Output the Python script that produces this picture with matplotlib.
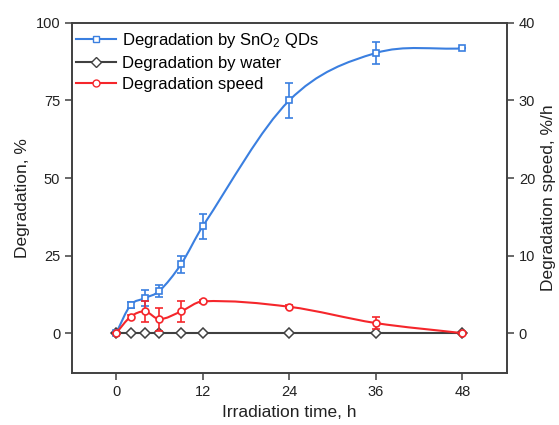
import numpy as np
import matplotlib
matplotlib.use("Agg")
from matplotlib import pyplot as plt
from matplotlib.path import Path
from matplotlib.patches import PathPatch
from matplotlib.lines import Line2D

plt.rcParams['font.family'] = ['Liberation Sans', 'DejaVu Sans']
plt.rcParams['mathtext.default'] = 'regular'

# data
cas = [0, 2, 4, 6, 9, 12, 24, 36, 48]
sno2 = [0, 9.0, 11.3, 13.6, 22.2, 34.4, 75.0, 90.3, 91.8]
sno2_err = [0, 1.0, 2.5, 2.0, 2.7, 4.0, 5.8, 3.6, 0]
voda = [0, 0, 0, 0, 0, 0, 0, 0, 0]
rychlost = [0, 2.1, 2.8, 1.8, 2.8, 4.1, 3.4, 1.3, 0]
rychlost_err = [0, 0.3, 1.3, 1.5, 1.4, 0.2, 0.2, 0.8, 0]

MODRA = '#3a7fe0'
CERVENA = '#f5262b'
SEDA = '#404040'


def hladka_cesta(x, y):
    # cubic Bezier segments through the data points (Origin-style spline line)
    x = np.asarray(x, float)
    y = np.asarray(y, float)
    n = len(x)
    m = np.zeros(n)
    for i in range(n):
        if i == 0:
            m[i] = (y[1] - y[0]) / (x[1] - x[0])
        elif i == n - 1:
            m[i] = (y[-1] - y[-2]) / (x[-1] - x[-2])
        else:
            m[i] = (y[i + 1] - y[i - 1]) / (x[i + 1] - x[i - 1])
    verts = [(x[0], y[0])]
    codes = [Path.MOVETO]
    for i in range(n - 1):
        dx = x[i + 1] - x[i]
        verts += [(x[i] + dx / 3, y[i] + m[i] * dx / 3),
                  (x[i + 1] - dx / 3, y[i + 1] - m[i + 1] * dx / 3),
                  (x[i + 1], y[i + 1])]
        codes += [Path.CURVE4] * 3
    return Path(verts, codes)


fig = plt.figure(figsize=(5.59, 4.25), dpi=100)
ax = fig.add_axes([0.129, 0.122, 0.778, 0.824])
ax2 = ax.twinx()

ax.add_patch(PathPatch(hladka_cesta(cas, sno2), fill=False, edgecolor=MODRA, lw=1.5, zorder=3))
ax.errorbar(cas, sno2, yerr=sno2_err, fmt='s', color=MODRA, mfc='white', mec=MODRA,
            ms=5, mew=1.2, capsize=3, elinewidth=1.2, capthick=1.2, zorder=4)
ax.plot(cas, voda, color=SEDA, lw=1.5, marker='D', ms=5, mfc='white', mec=SEDA, mew=1.1, zorder=3)

ax2.add_patch(PathPatch(hladka_cesta(cas, rychlost), fill=False, edgecolor=CERVENA, lw=1.5, zorder=3))
ax2.errorbar(cas, rychlost, yerr=rychlost_err, fmt='o', color=CERVENA, mfc='white', mec=CERVENA,
             ms=5, mew=1.2, capsize=3, elinewidth=1.2, capthick=1.2, zorder=4)

ax.set_xlim(-6.1, 54.2)
ax.set_ylim(-12.9, 100)
ax2.set_ylim(-5.16, 40)
ax.set_xticks([0, 12, 24, 36, 48])
ax.set_yticks([0, 25, 50, 75, 100])
ax2.set_yticks([0, 10, 20, 30, 40])

for a in (ax, ax2):
    for s in a.spines.values():
        s.set_color(SEDA)
        s.set_linewidth(1.2)
    a.tick_params(direction='out', length=5, width=1.1, color=SEDA, labelsize=10.5,
                  labelcolor='#222222')
ax.tick_params(top=False, right=False)
ax2.tick_params(left=False, right=True)

ax.set_xlabel('Irradiation time, h', fontsize=12.5, color='#222222')
ax.set_ylabel('Degradation, %', fontsize=12.5, color='#222222')
ax2.set_ylabel('Degradation speed, %/h', fontsize=12.5, color='#222222')

popisky = [
    Line2D([], [], color=MODRA, lw=1.5, marker='s', ms=5, mfc='white', mec=MODRA),
    Line2D([], [], color=SEDA, lw=1.5, marker='D', ms=5, mfc='white', mec=SEDA),
    Line2D([], [], color=CERVENA, lw=1.5, marker='o', ms=5, mfc='white', mec=CERVENA),
]
ax.legend(popisky, ['Degradation by SnO$_2$ QDs', 'Degradation by water', 'Degradation speed'],
          loc='upper left', bbox_to_anchor=(-0.025, 1.02), frameon=False, fontsize=12,
          handlelength=2.4, handletextpad=0.35, labelspacing=0.35)

fig.savefig('out.png', dpi=100)
